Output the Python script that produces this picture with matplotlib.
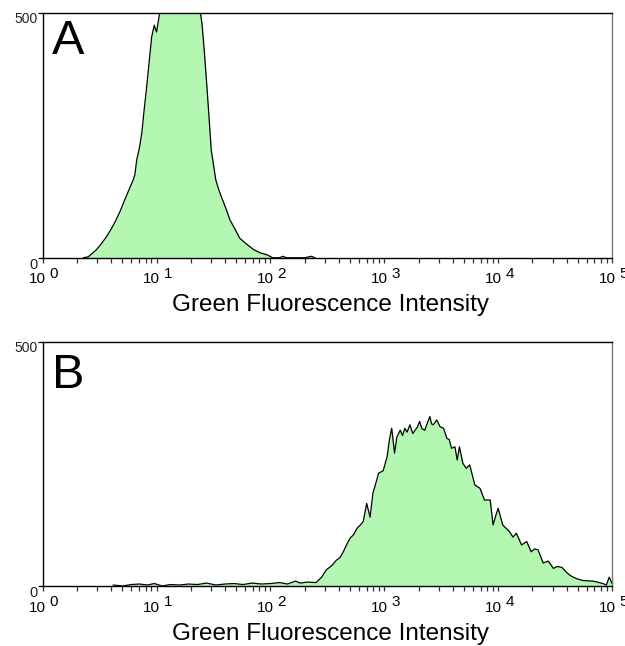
import numpy as np
import matplotlib.pyplot as plt

# histogram A: log10 intensity bin positions and counts
logA = [0.36, 0.40, 0.47, 0.52, 0.56, 0.60, 0.635, 0.68, 0.72, 0.76,
        0.795, 0.81, 0.825, 0.85, 0.87, 0.89, 0.91, 0.935, 0.957, 0.98,
        1.0, 1.02, 1.04, 1.1, 1.2, 1.3, 1.375, 1.40, 1.42, 1.44,
        1.46, 1.48, 1.50, 1.52, 1.545, 1.57, 1.61, 1.645, 1.69, 1.73,
        1.79, 1.85, 1.91, 1.97, 2.02, 2.08, 2.11, 2.14, 2.3, 2.36, 2.39]
cntA = [0, 2, 16, 30, 43, 58, 73, 95, 118, 140,
        159, 170, 199, 225, 254, 300, 342, 400, 451, 475,
        461, 490, 520, 560, 580, 560, 520, 475, 420, 356,
        290, 220, 190, 159, 140, 124, 100, 77, 58, 40,
        28, 17, 10, 6, 0, 0, 3, 0, 0, 3, 0]

# histogram B
logB = [0.62, 0.70, 0.78, 0.85, 0.92, 0.98, 1.05, 1.12, 1.2, 1.28,
        1.36, 1.44, 1.52, 1.6, 1.68, 1.76, 1.84, 1.92, 2.0, 2.08,
        2.15, 2.22, 2.26, 2.33, 2.40, 2.45, 2.49, 2.54, 2.58, 2.61,
        2.64, 2.67, 2.70, 2.73, 2.76, 2.79, 2.815, 2.845, 2.875, 2.90,
        2.925, 2.95, 2.99, 3.025, 3.045, 3.065, 3.09, 3.11, 3.14, 3.16,
        3.18, 3.2, 3.225, 3.25, 3.27, 3.29, 3.31, 3.33, 3.355, 3.38,
        3.40, 3.415, 3.43, 3.46, 3.49, 3.52, 3.55, 3.57, 3.59, 3.62,
        3.64, 3.66, 3.69, 3.72, 3.75, 3.775, 3.795, 3.84, 3.88, 3.93,
        3.955, 3.98, 4.0, 4.04, 4.07, 4.10, 4.13, 4.16, 4.205, 4.25,
        4.29, 4.32, 4.35, 4.395, 4.44, 4.485, 4.52, 4.56, 4.60, 4.63,
        4.66, 4.7, 4.75, 4.83, 4.87, 4.92, 4.95, 4.975, 5.0]
cntB = [2, 0, 3, 4, 2, 5, 0, 3, 2, 4,
        3, 6, 2, 4, 5, 3, 6, 4, 5, 7,
        4, 10, 6, 8, 7, 18, 33, 42, 53, 58,
        70, 85, 98, 105, 118, 125, 132, 169, 141, 190,
        210, 231, 236, 265, 300, 323, 272, 305, 319, 308,
        323, 315, 330, 312, 319, 325, 337, 322, 319, 335,
        347, 332, 330, 340, 326, 323, 302, 300, 282, 285,
        258, 285, 251, 241, 248, 225, 207, 200, 176, 176,
        125, 145, 159, 125, 118, 111, 100, 108, 84, 91,
        70, 76, 74, 47, 51, 36, 40, 38, 28, 22,
        18, 14, 11, 10, 8, 5, 2, 18, 5]

panels = ['A', 'B']
xlabel = 'Green Fluorescence Intensity'
decades = [0, 1, 2, 3, 4, 5]

plt.rcParams['font.family'] = ['Liberation Sans', 'DejaVu Sans']

fig = plt.figure(figsize=(6.25, 6.46), dpi=100)
ax1 = fig.add_axes([0.0683, 0.601, 0.911, 0.379])
ax2 = fig.add_axes([0.0683, 0.0929, 0.911, 0.378])

label_tops = [0.975, 0.955]

for ax, logs, cnts, name, ltop in zip([ax1, ax2], [logA, logB], [cntA, cntB], panels, label_tops):
    x = 10 ** np.array(logs)
    ax.fill_between(x, cnts, 0, color='#b3f7b3', lw=0)
    ax.plot(x, cnts, color='black', lw=0.9)
    ax.set_xscale('log')
    ax.set_xlim(1, 1e5)
    ax.set_ylim(0, 500)

    ax.set_xticks([10.0 ** d for d in decades])
    ax.set_xticks([m * 10.0 ** d for d in decades[:-1] for m in range(2, 10)], minor=True)
    ax.set_xticklabels([])
    ax.set_xticklabels([], minor=True)
    ax.tick_params(axis='x', which='both', direction='out', length=3.5, width=0.9, color='#333333')
    ax.set_yticks([0, 500])
    ax.set_yticklabels([])
    ax.tick_params(axis='y', direction='out', length=3.5, width=0.9)

    for s in ['left', 'bottom', 'top']:
        ax.spines[s].set_color('black')
        ax.spines[s].set_linewidth(1.0)
    ax.spines['right'].set_color('#777777')
    ax.spines['right'].set_linewidth(1.0)

    # log decade labels as 10 with a raised exponent
    for d in decades:
        ax.annotate('10', xy=(10.0 ** d, 0), xycoords=('data', 'axes fraction'),
                    xytext=(2.5, -10.5), textcoords='offset points',
                    ha='right', va='top', fontsize=11)
        ax.annotate(str(d), xy=(10.0 ** d, 0), xycoords=('data', 'axes fraction'),
                    xytext=(5, -6.5), textcoords='offset points',
                    ha='left', va='top', fontsize=11)

    ax.annotate('500', xy=(0, 1), xycoords='axes fraction', xytext=(-3.5, 0.5),
                textcoords='offset points', ha='right', va='top', fontsize=10, color='#222222')
    ax.annotate('0', xy=(0, 0), xycoords='axes fraction', xytext=(-4, 0),
                textcoords='offset points', ha='right', va='top', fontsize=10.5, color='#222222')

    ax.text(0.505, -0.195, xlabel, transform=ax.transAxes, ha='center', va='center', fontsize=17.5)
    ax.text(0.016, ltop, name, transform=ax.transAxes, ha='left', va='top', fontsize=35)

fig.savefig('out.png', dpi=100)
